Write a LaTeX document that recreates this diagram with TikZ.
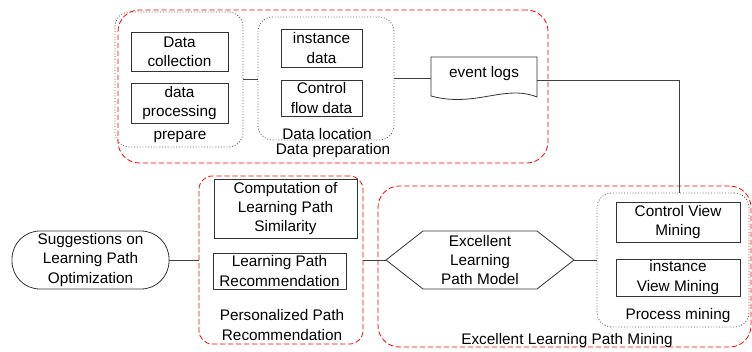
\documentclass[tikz,border=0pt]{standalone}
\usepackage{fontspec}
\setmainfont{Liberation Sans}
\usetikzlibrary{fit}
\begin{document}
\begin{tikzpicture}[x=0.75pt,y=-0.75pt,
  every node/.style={font=\fontsize{11.5}{14.5}\selectfont, align=center},
  box/.style={draw=black!80, line width=0.6pt, inner sep=0pt},
  group/.style={draw=red, dash pattern=on 4pt off 2pt, line width=0.6pt, rounded corners=16pt, inner sep=0pt},
  area/.style={draw=black!65, dash pattern=on 0.7pt off 1.4pt, line width=0.6pt, rounded corners=11pt, inner sep=0pt},
  link/.style={draw=black!75, line width=0.7pt}]
  \useasboundingbox (0,0) rectangle (752,351);

  \node[group, fit={(118,10) (548,163)}] (top) {};
  \node[area, fit={(115,12) (243,147)}] (prep) {};
  \node[area, fit={(258,17) (394,140)}] (loc) {};
  \node[box, minimum width=72.75pt, minimum height=29.25pt] at (179.5,51.5) (collect) {Data\\collection};
  \node[box, minimum width=72.75pt, minimum height=30pt] at (179.5,103) (process) {data\\processing};
  \node[box, minimum width=60.75pt, minimum height=28.5pt] at (321.5,48) (inst) {instance\\data};
  \node[box, minimum width=60.75pt, minimum height=27pt] at (321.5,98) (flow) {Control\\flow data};
  \node at (180,137) (preplabel) {prepare};
  \node at (327,134) (loclabel) {Data location};
  \node at (333,151) (toplabel) {Data preparation};

  \node[inner sep=0pt, minimum width=79.5pt, minimum height=30pt] at (484,77) (logs) {};
  \node at (484,74) (logstext) {event logs};
  \draw[line width=0.6pt, draw=black!80] (431,57) -- (537,57) -- (537,97)
    .. controls (505,84) and (475,108) .. (431,96) -- cycle;

  \node[group, rounded corners=10pt, fit={(199,176) (363,344)}] (personal) {};
  \node[box, minimum width=107.25pt, minimum height=44.25pt] at (285.5,208.5) (compute) {Computation of\\Learning Path\\Similarity};
  \node[box, minimum width=99.75pt, minimum height=27pt] at (279.5,271) (recommend) {Learning Path\\Recommendation};
  \node at (282,325) (personallabel) {Personalized Path\\Recommendation};

  \node[box, rounded corners=21pt, minimum width=117.75pt, minimum height=43.5pt] at (90.5,260) (suggest) {Suggestions on\\Learning Path\\Optimization};

  \node[group, fit={(378,186) (751,347)}] (mining) {};
  \node[area, fit={(597,193) (749,327)}] (procmine) {};
  \node[box, minimum width=93pt, minimum height=30pt] at (678,222) (cvm) {Control View\\Mining};
  \node[box, minimum width=93pt, minimum height=27.75pt] at (678,277.5) (ivm) {instance\\View Mining};
  \node at (678,316) (proclabel) {Process mining};
  \node at (567,341) (mininglabel) {Excellent Learning Path Mining};

  \node at (480,260) (model) {Excellent\\Learning\\Path Model};
  \draw[line width=0.6pt, draw=black!80] (386,260) coordinate (modelW) -- (423,231) -- (537,231)
    -- (574,260) coordinate (modelE) -- (537,289) -- (423,289) -- cycle;

  \coordinate (turn) at (679,80);
  \draw[link] (prep.east) -- (prep.east -| loc.west);
  \draw[link] (loc.east) -- (loc.east -| logs.west);
  \draw[link] (logs.east |- turn) -- (turn) -- (turn |- procmine.north);
  \draw[link] (suggest.east) -- (personal.west);
  \draw[link] (personal.east) -- (modelW);
  \draw[link] (modelE) -- (procmine.west);
\end{tikzpicture}
\end{document}
